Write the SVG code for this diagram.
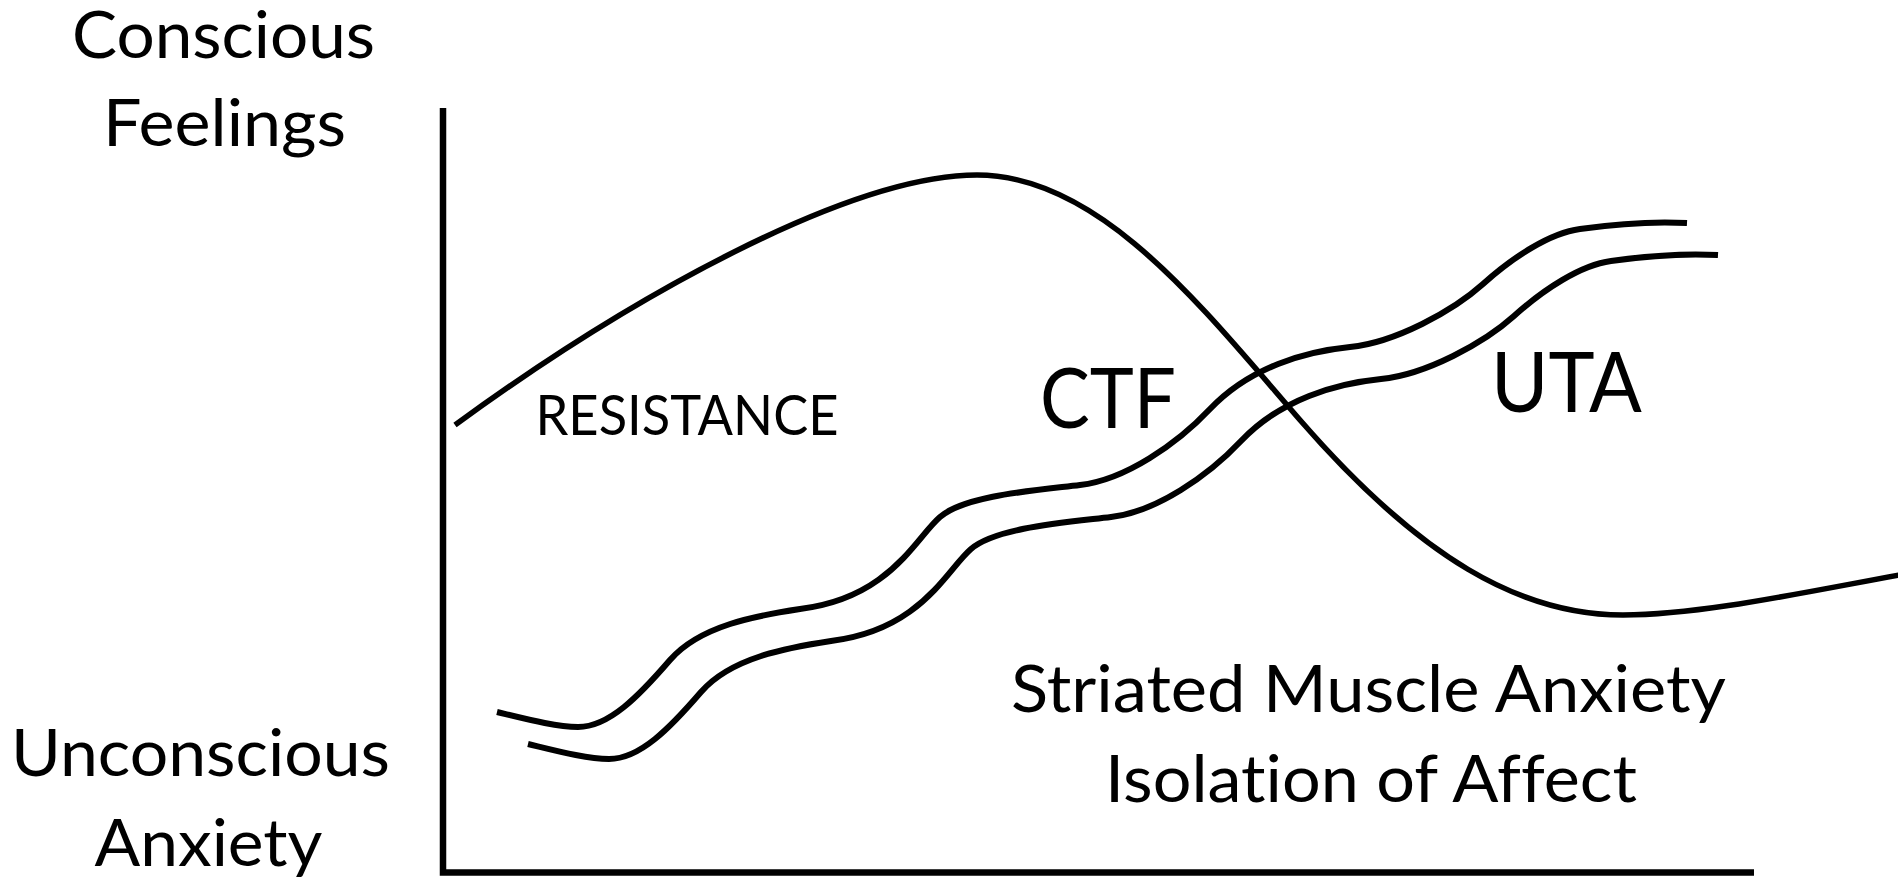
<svg xmlns="http://www.w3.org/2000/svg" width="1898" height="879" viewBox="0 0 1898 879">
<style>
  .lbl { font-family: Lato, "Open Sans", "Liberation Sans", sans-serif; fill: #000; text-anchor: middle; font-variant-ligatures: none; font-feature-settings: "liga" 0, "clig" 0; }
  .big { font-size: 66px; }
  .mid { font-size: 56px; }
  .huge { font-size: 84px; }
  .ln { fill: none; stroke: #000; stroke-linecap: butt; stroke-linejoin: miter; }
</style>
<defs>
  <path id="wave" d="M497,712 C526,719 556,727 578,727 C609,727 639,696 670,660 C700,625.5 757,615.5 800,609 C890,598 915,538.5 940,517 C965,495.5 1035,490.4 1080,485 C1125,480 1177,444 1210,409 C1250,367 1305,351.5 1350,347 C1395,342.5 1453,311 1483,284 C1513,257 1550,233 1580,229 C1615,224 1650,221 1687,223"/>
</defs>
<g id="connectors">
  <path id="axes" class="ln" stroke-width="6.5" d="M443,108 V872.5 H1754"/>
  <path id="resistance-curve" class="ln" stroke-width="5.5" d="M455,425 C630,297 850,175 977,175 C1100,175 1202,307 1300,420 C1420,558 1520,615 1623,615 C1700,615 1800,593 1910,573"/>
  <use id="wave-upper" href="#wave" class="ln" stroke-width="6"/>
  <use id="wave-lower" href="#wave" class="ln" stroke-width="6" transform="translate(31,32)"/>
</g>
<g id="label-conscious">
  <text class="lbl big" x="223.5" y="58" textLength="303" lengthAdjust="spacingAndGlyphs">Conscious</text>
  <text class="lbl big" x="224.5" y="146" textLength="243" lengthAdjust="spacingAndGlyphs">Feelings</text>
</g>
<g id="label-unconscious">
  <text class="lbl big" x="200.5" y="776" textLength="379" lengthAdjust="spacingAndGlyphs">Unconscious</text>
  <text class="lbl big" x="208.5" y="866" textLength="228" lengthAdjust="spacingAndGlyphs">Anxiety</text>
</g>
<g id="label-resistance">
  <text class="lbl mid" x="687" y="435" textLength="303" lengthAdjust="spacingAndGlyphs">RESISTANCE</text>
</g>
<g id="label-ctf">
  <text class="lbl huge" x="1108" y="428" textLength="136" lengthAdjust="spacingAndGlyphs">CTF</text>
</g>
<g id="label-uta">
  <text class="lbl huge" x="1566.5" y="412" textLength="151" lengthAdjust="spacingAndGlyphs">UTA</text>
</g>
<g id="label-striated">
  <text class="lbl big" x="1368.5" y="712" textLength="715" lengthAdjust="spacingAndGlyphs">Striated Muscle Anxiety</text>
  <text class="lbl big" x="1371" y="802" textLength="532" lengthAdjust="spacingAndGlyphs">Isolation of Affect</text>
</g>
</svg>
